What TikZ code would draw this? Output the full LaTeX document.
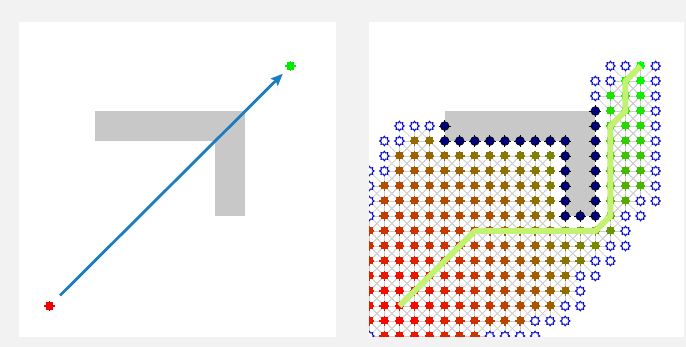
\documentclass[tikz,border=0pt]{standalone}
\usetikzlibrary{arrows.meta,shapes.geometric}
\definecolor{bgout}{RGB}{242,242,242}
\definecolor{obst}{RGB}{200,200,200}
\definecolor{arrowc}{RGB}{25,125,190}
\definecolor{openc}{RGB}{10,10,205}
\definecolor{blkc}{RGB}{0,0,125}
\definecolor{pathc}{RGB}{195,242,115}
\definecolor{edgec}{RGB}{205,205,205}
\definecolor{startc}{RGB}{240,0,0}
\definecolor{goalc}{RGB}{0,235,0}
\tikzset{
  gridedge/.style={edgec, line width=0.7pt},
  opennode/.style={star, star points=8, star point ratio=1.45, minimum size=9.5pt,
    inner sep=0pt, draw=openc, line width=1pt, fill=white},
  pathline/.style={pathc, line width=6pt, line join=round},
  gridframe/.style={x=15.07pt, y=-15pt}
}
\begin{document}
\begin{tikzpicture}[x=1pt,y=-1pt]
\useasboundingbox (0,0) rectangle (686,347);
\fill[bgout] (0,0) rectangle (686,347);
\fill[white] (19,22) rectangle (336,337);
\fill[white] (369,22) rectangle (684,337);

% ---------------- left panel ----------------
\begin{scope}[shift={(19.3,66)}, gridframe]
  \fill[obst] (5,3) rectangle (15,5);
  \fill[obst] (13,3) rectangle (15,10);
  \coordinate (ls) at (2,16);
  \coordinate (lg) at (18,0);
  \draw[arrowc, line width=2.8pt, shorten <=15pt, shorten >=11pt,
        -{Stealth[length=12pt,width=10pt,inset=2pt]}] (ls) -- (lg);
  \draw[startc, line width=1.3pt, shift={(2,16)}] (-5.2pt,0pt) -- (5.2pt,0pt) (0pt,-5.2pt) -- (0pt,5.2pt);
  \fill[startc, shift={(2,16)}] (-3.6pt,-3.6pt) rectangle (3.6pt,3.6pt);
  \draw[goalc, line width=1.3pt, shift={(18,0)}] (-5.2pt,0pt) -- (5.2pt,0pt) (0pt,-5.2pt) -- (0pt,5.2pt);
  \fill[goalc, shift={(18,0)}] (-3.6pt,-3.6pt) rectangle (3.6pt,3.6pt);
\end{scope}

% ---------------- right panel ----------------
\begin{scope}
\clip (369,22) rectangle (684,337);
\begin{scope}[shift={(369.3,66)}, gridframe]
  \fill[obst] (5,3) rectangle (15,5);
  \fill[obst] (13,3) rectangle (15,10);

  % blocked cells
  \foreach \j/\a/\b in {3/15/15, 4/5/5, 4/15/15, 5/5/13, 5/15/15, 6/13/13, 6/15/15,
      7/13/13, 7/15/15, 8/13/13, 8/15/15, 9/13/13, 9/15/15, 10/13/15} {
    \foreach \i in {\a,...,\b} {\expandafter\xdef\csname blk@\i @\j\endcsname{1}}
  }

  \def\closedlist{1/17/18, 2/16/18, 3/16/18, 4/16/18, 5/3/4, 5/16/18,
      6/2/12, 6/16/18, 7/2/12, 7/16/18, 8/1/12, 8/16/18, 9/1/12, 9/16/17,
      10/1/12, 10/16/16, 11/0/16, 12/0/15, 13/0/14, 14/0/13, 15/0/13,
      16/0/12, 17/0/10, 18/1/7}
  \edef\closedall{0/18/18, \closedlist}

  % edges of the search graph
  \foreach \j/\a/\b in \closedlist {
    \foreach \i in {\a,...,\b} {
      \foreach \di/\dj in {1/0,-1/0,0/1,0/-1,1/1,1/-1,-1/1,-1/-1} {
        \pgfmathtruncatemacro\ni{\i+\di}
        \pgfmathtruncatemacro\nj{\j+\dj}
        \ifcsname blk@\ni @\nj\endcsname\else
          \draw[gridedge] (\i,\j) -- (\ni,\nj);
        \fi
      }
    }
  }

  % closed nodes (and the goal)
  \foreach \j/\a/\b in \closedall {
    \foreach \i in {\a,...,\b} {
      \pgfmathsetmacro\gv{((\i>=16) && (\j<=10)) ? (16.4853 + min(abs(\i-16),abs(\j-10))*1.41421 + abs(abs(\i-16)-abs(\j-10))) : (min(abs(\i-2),abs(\j-16))*1.41421 + abs(abs(\i-2)-abs(\j-16)))}
      \pgfmathtruncatemacro\tp{min(100,round(100*\gv/27.31))}
      \colorlet{nc}{green!\tp!red}
      \draw[nc, line width=1.3pt, shift={(\i,\j)}] (-4.9pt,0pt) -- (4.9pt,0pt) (0pt,-4.9pt) -- (0pt,4.9pt);
      \fill[nc, shift={(\i,\j)}] (-3.5pt,-3.5pt) rectangle (3.5pt,3.5pt);
    }
  }

  % open nodes
  \foreach \j/\a/\b in {0/16/17, 0/19/19, 1/15/16, 1/19/19, 2/15/15, 2/19/19, 3/19/19,
      4/2/4, 4/19/19, 5/1/2, 5/19/19, 6/1/1, 6/19/19, 7/0/1, 7/19/19, 8/0/0, 8/19/19,
      9/0/0, 9/18/19, 10/0/0, 10/17/18, 11/17/17, 12/16/17, 13/15/16, 14/14/15,
      15/14/14, 16/13/14, 17/11/13, 18/0/0, 18/8/11} {
    \foreach \i in {\a,...,\b} {
      \node[opennode] (o\i x\j) at (\i,\j) {};
    }
  }

  % blocked (examined) nodes
  \foreach \j/\a/\b in {3/15/15, 4/5/5, 4/15/15, 5/5/13, 5/15/15, 6/13/13, 6/15/15,
      7/13/13, 7/15/15, 8/13/13, 8/15/15, 9/13/13, 9/15/15, 10/13/15} {
    \foreach \i in {\a,...,\b} {
      \draw[black, line width=0.9pt, shift={(\i,\j)}] (-6pt,0pt) -- (6pt,0pt) (0pt,-6pt) -- (0pt,6pt);
      \filldraw[fill=blkc, draw=black, line width=0.6pt, shift={(\i,\j)}] (0,0) circle (4.4pt);
    }
  }

  % found path
  \coordinate (p0) at (2,16);
  \coordinate (p1) at (7,11);
  \coordinate (p2) at (15,11);
  \coordinate (p3) at (16,10);
  \coordinate (p4) at (16,4);
  \coordinate (p5) at (17,3);
  \coordinate (p6) at (17,1);
  \coordinate (p7) at (18,0);
  \draw[pathline] (p0) -- (p1) -- (p2) -- (p3) -- (p4) -- (p5) -- (p6) -- (p7);
\end{scope}
\end{scope}
\end{tikzpicture}
\end{document}
